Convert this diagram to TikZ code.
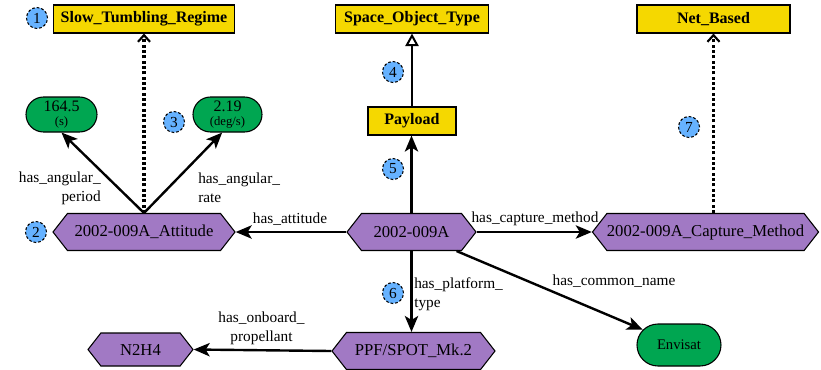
\documentclass[tikz,border=0pt]{standalone}
\usepackage{fontspec}
\setmainfont{Liberation Serif}
\newfontfamily\diagfont{Liberation Serif}
\usetikzlibrary{shapes.symbols,shapes.misc,arrows.meta}

\definecolor{clsyellow}{RGB}{245,216,0}
\definecolor{litgreen}{RGB}{0,166,81}
\definecolor{indpurple}{RGB}{161,121,196}
\definecolor{stepblue}{RGB}{102,178,255}

\begin{document}
\begin{tikzpicture}[x=0.75pt,y=-0.75pt,
  font=\diagfont,
  cls/.style={draw, line width=0.8pt, fill=clsyellow, minimum height=21pt,
    inner sep=0pt, font=\diagfont\fontsize{12}{14}\selectfont\bfseries},
  ind/.style={signal, signal to=west and east, signal pointer angle=104,
    draw, line width=0.8pt, fill=indpurple, minimum height=27.75pt,
    inner sep=0pt, font=\diagfont\fontsize{12.5}{14}\selectfont},
  lit/.style={rounded rectangle, draw, line width=0.8pt, fill=litgreen,
    inner sep=0pt, align=center, font=\diagfont\fontsize{12}{12}\selectfont},
  num/.style={circle, draw, dash pattern=on 2pt off 1.5pt, line width=0.8pt,
    fill=stepblue, minimum size=15.75pt, inner sep=0pt,
    font=\diagfont\fontsize{11.5}{12}\selectfont},
  lbl/.style={font=\diagfont\fontsize{11.5}{14.25}\selectfont, inner sep=0pt},
  rel/.style={line width=1.8pt, -{Stealth[length=12pt, width=10pt, inset=3pt]}},
  isa/.style={line width=1.8pt, -{Triangle[open, fill=white, length=9.5pt, width=10pt, line width=1.5pt]}},
  typ/.style={line width=2.3pt, dash pattern=on 2.2pt off 1.8pt,
    -{Straight Barb[length=5pt, width=9pt, line width=1.6pt]}}]

\useasboundingbox (0,0) rectangle (821,369);

% ======================
% Classes
% ======================
\node[cls, minimum width=135.75pt] (slow) at (144,19) {Slow\_Tumbling\_Regime};
\node[cls, minimum width=114.75pt] (sot) at (412,19) {Space\_Object\_Type};
\node[cls, minimum width=114.75pt] (net) at (713.5,19) {Net\_Based};
\node[cls, minimum width=66pt] (pay) at (412,121) {Payload};

% ======================
% Individuals
% ======================
\node[ind, minimum width=136.5pt] (att) at (144,232) {2002-009A\_Attitude};
\node[ind, minimum width=96.75pt] (core) at (411.5,232) {2002-009A};
\node[ind, minimum width=165.75pt] (cap) at (705.5,232) {2002-009A\_Capture\_Method};
\node[ind, minimum width=122.25pt] (ppf) at (413.5,351) {PPF/SPOT\_Mk.2};
\node[ind, minimum width=78.75pt, minimum height=24.75pt] (prop) at (140.5,349.5) {N2H4};

% ======================
% Literals
% ======================
\node[lit, minimum width=53.25pt, minimum height=26.25pt] (per) at (61.5,114.5)
  {164.5\\[-1pt]{\fontsize{9.5}{10}\selectfont (s)}};
\node[lit, minimum width=51.75pt, minimum height=26.25pt] (rate) at (227.5,114.5)
  {2.19\\[-1pt]{\fontsize{9.5}{10}\selectfont (deg/s)}};
\node[lit, minimum width=63pt, minimum height=31.5pt, font=\diagfont\fontsize{11}{12}\selectfont]
  (env) at (679,345) {Envisat};

% ======================
% Relations
% ======================
\draw[typ] (att.north) -- (slow.south);
\draw[rel] (att.north) -- (per.south);
\draw[rel] (att.north) -- ([xshift=-4pt]rate.south);
\draw[rel] (core.west) -- (att.east);
\draw[rel] (core.north) -- (core.north |- pay.south);
\draw[isa] (pay.north) -- (sot.south);
\draw[rel] (core.east) -- (cap.west);
\draw[typ] (net.south |- cap.north) -- (net.south);
\draw[rel] (core.south) -- (core.south |- ppf.north);
\draw[rel] (core) -- (env);
\draw[rel] (ppf.west) -- (prop.east);

\node[lbl, anchor=east, align=right] (lper) at (101,188) {has\_angular\_\\period};
\node[lbl, anchor=west, align=left] (lrate) at (198,188) {has\_angular\_\\rate};
\node[lbl] (latt) at (290,219) {has\_attitude};
\node[lbl] (lcap) at (535,219) {has\_capture\_method};
\node[lbl, anchor=west, align=left] (lplat) at (414,294) {has\_platform\_\\type};
\node[lbl] (lname) at (614,281) {has\_common\_name};
\node[lbl, align=center] (lprop) at (261.5,328) {has\_onboard\_\\propellant};

% ======================
% Numbered steps
% ======================
\node[num] (n1) at (37,18) {1};
\node[num] (n2) at (36,232) {2};
\node[num] (n3) at (174,122) {3};
\node[num] (n4) at (393,72) {4};
\node[num] (n5) at (393,169) {5};
\node[num] (n6) at (393,293) {6};
\node[num] (n7) at (689,127) {7};

\end{tikzpicture}
\end{document}
